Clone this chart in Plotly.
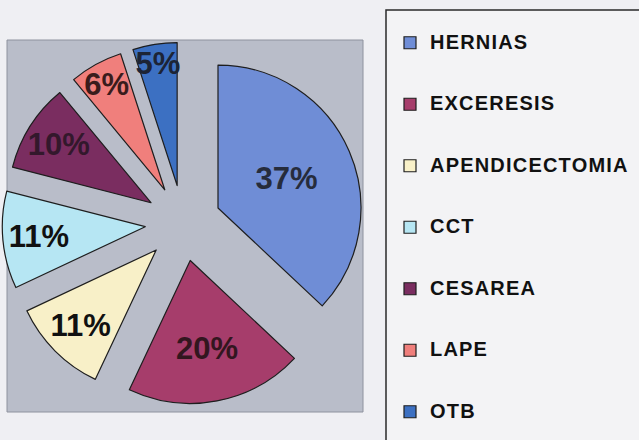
import plotly.graph_objects as go

categories = ["HERNIAS", "EXCERESIS", "APENDICECTOMIA", "CCT", "CESAREA", "LAPE", "OTB"]
values = [37, 20, 11, 11, 10, 6, 5]
slice_colors = ["#6f8dd6", "#a63d6b", "#f8f0c8", "#b6e6f3", "#7a2d60", "#f07f7c", "#3c70c2"]
text_colors = ["#262c3c", "#33161f", "#111111", "#111111", "#33182c", "#3a1c1c", "#1c2436"]

W, H = 639, 440


def fx(px):
    return px / W


def fy(py):
    return (H - py) / H


# legend labels: three lines so each entry is as tall as in the reference
legend_labels = [
    "&nbsp;<br><span style='font-size:20px;letter-spacing:1.2px'>%s</span><br>&nbsp;" % c
    for c in categories
]

fig = go.Figure(
    go.Pie(
        labels=legend_labels,
        values=values,
        sort=False,
        direction="clockwise",
        rotation=0,
        pull=0.266,
        marker=dict(colors=slice_colors, line=dict(color="#1e1e1e", width=1.2)),
        texttemplate="%{percent:.0%}",
        textposition="inside",
        insidetextorientation="horizontal",
        textfont=dict(family="Liberation Sans, Arial, sans-serif", size=31,
                      color=text_colors, weight="bold"),
        hovertemplate="%{customdata}: %{percent}<extra></extra>",
        customdata=categories,
        domain=dict(x=[fx(2.1), fx(364.1)], y=[fy(404.1), fy(42.1)]),
    )
)

fig.update_layout(
    width=W,
    height=H,
    margin=dict(l=0, r=0, t=0, b=0, autoexpand=False),
    paper_bgcolor="#efeff3",
    plot_bgcolor="#efeff3",
    uniformtext=dict(minsize=31, mode="show"),
    font=dict(family="Liberation Sans, Arial, sans-serif", color="#111111"),
    showlegend=True,
    legend=dict(
        x=fx(390),
        y=fy(7),
        xanchor="left",
        yanchor="top",
        bgcolor="rgba(0,0,0,0)",
        borderwidth=0,
        font=dict(size=15, family="Liberation Sans, Arial, sans-serif",
                  color="#111111", weight="bold"),
        maxheight=2000,
    ),
    shapes=[
        # gray plot area
        dict(type="rect", xref="paper", yref="paper",
             x0=fx(7), x1=fx(363), y0=fy(412), y1=fy(40),
             fillcolor="#b9bdc9", line=dict(color="#8e929e", width=1), layer="below"),
        # legend frame (runs off the right and bottom edges)
        dict(type="rect", xref="paper", yref="paper",
             x0=fx(386), x1=fx(660), y0=fy(460), y1=fy(10),
             fillcolor="#f3f3f5", line=dict(color="#2a2a2a", width=1.5), layer="below"),
    ],
)

fig.write_html(
    "out.html",
    config={"displayModeBar": False},
    post_script="document.body.style.margin='0';document.body.style.overflow='hidden';",
)
